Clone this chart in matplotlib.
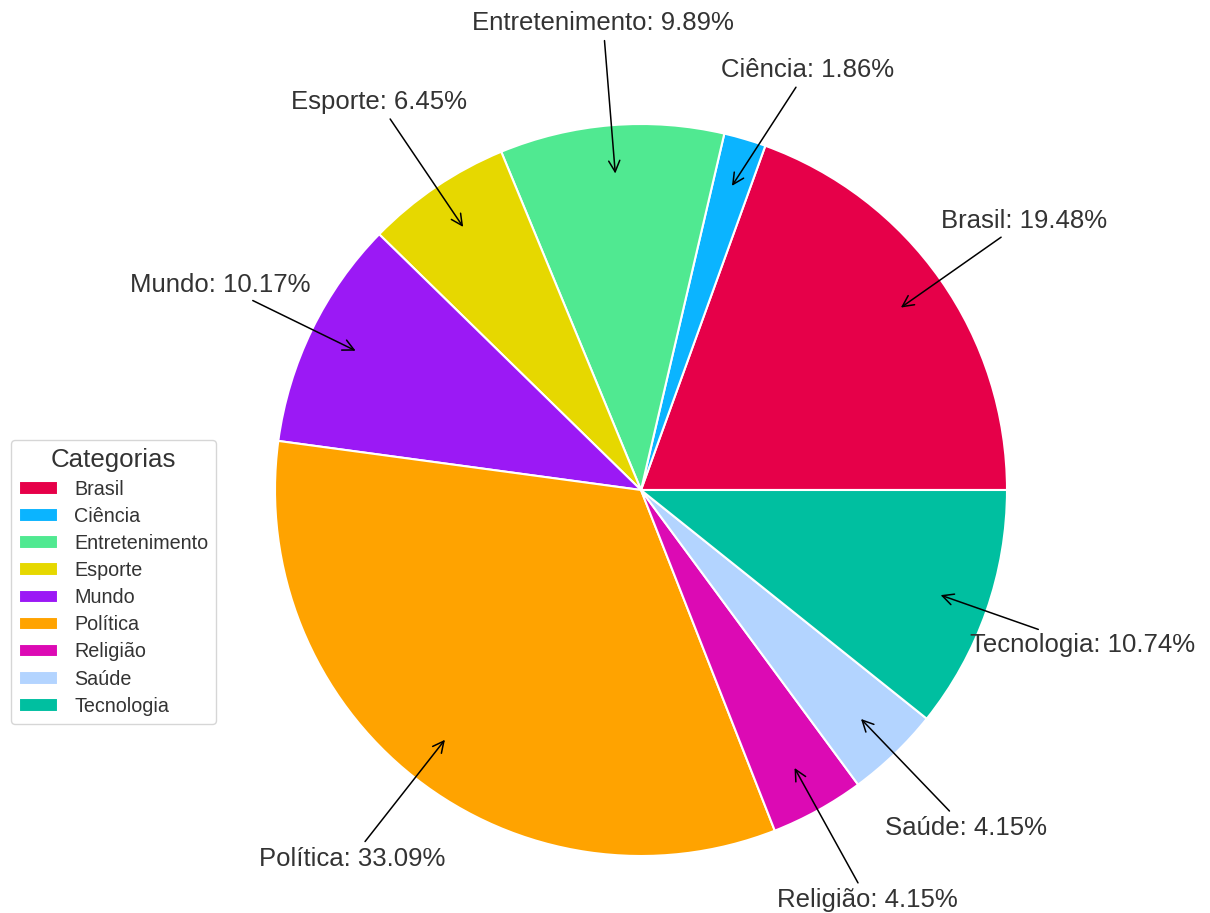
import numpy as np
import matplotlib
matplotlib.use("Agg")
import matplotlib.pyplot as plt

plt.rcParams['font.family'] = ['Liberation Sans', 'DejaVu Sans']

# Categorias e percentuais
categorias = ['Brasil', 'Ciência', 'Entretenimento', 'Esporte', 'Mundo',
              'Política', 'Religião', 'Saúde', 'Tecnologia']
percentuais = [19.48, 1.86, 9.89, 6.45, 10.17, 33.09, 4.15, 4.15, 10.74]
cores = ['#e60049', '#0bb4ff', '#50e991', '#e6d800', '#9b19f5',
         '#ffa300', '#dc0ab4', '#b3d4ff', '#00bfa0']

fig = plt.figure(figsize=(12.10, 9.13), dpi=100)
ax = fig.add_axes([275 / 1210, 57 / 913, 732 / 1210, 732 / 913])

wedges, _ = ax.pie(percentuais, colors=cores, startangle=0, counterclock=True,
                   wedgeprops=dict(edgecolor='white', linewidth=1.5))
ax.set_xlim(-1, 1)
ax.set_ylim(-1, 1)
ax.set_aspect('equal')

# deslocamento manual do rótulo de Ciência para não colidir com Entretenimento
ajuste = {'Ciência': (0.09, -0.08)}

for w, cat, p in zip(wedges, categorias, percentuais):
    ang = np.deg2rad((w.theta1 + w.theta2) / 2)
    x, y = np.cos(ang), np.sin(ang)
    dx, dy = ajuste.get(cat, (0, 0))
    ax.annotate(f'{cat}: {p:.2f}%', xy=(0.86 * x, 0.86 * y),
                xytext=(1.28 * x + dx, 1.28 * y + dy),
                ha='center', va='center', fontsize=18.5, color='#333333',
                arrowprops=dict(arrowstyle='->', color='black', lw=1.1,
                                mutation_scale=20))

leg = ax.legend(wedges, categorias, title='Categorias', loc='upper left',
                bbox_to_anchor=(11 / 1210, 1 - 440 / 913),
                bbox_transform=fig.transFigure, fontsize=14.2,
                title_fontsize=18.6, frameon=True, borderaxespad=0,
                labelspacing=0.41)
leg.get_frame().set_edgecolor('#cccccc')
leg.get_title().set_color('#333333')
for t in leg.get_texts():
    t.set_color('#333333')

fig.savefig('out.png', dpi=100)
